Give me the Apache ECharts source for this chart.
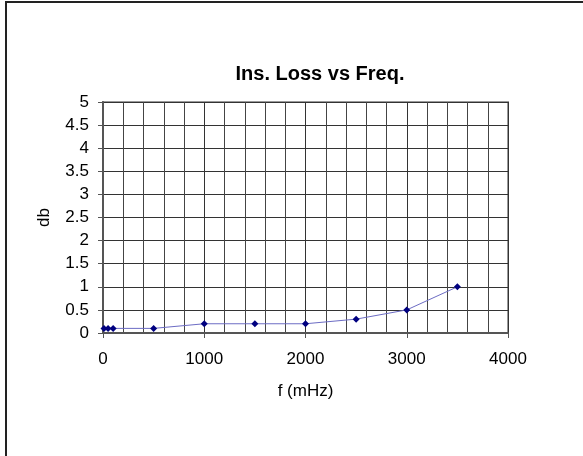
<!DOCTYPE html>
<html>
<head>
<meta charset="utf-8">
<script src="https://cdn.jsdelivr.net/npm/echarts@6/dist/echarts.min.js"></script>
<style>
html,body{margin:0;padding:0;background:#fff;}
#chart{width:583px;height:456px;}
</style>
</head>
<body>
<div id="chart"></div>
<script>
const freqs = [10, 50, 100, 500, 1000, 1500, 2000, 2500, 3000, 3500];
const lossDb = [0.1, 0.1, 0.1, 0.1, 0.2, 0.2, 0.2, 0.3, 0.5, 1.0];
const titleText = 'Ins. Loss vs Freq.';
const xName = 'f (mHz)';
const yName = 'db';

const chart = echarts.init(document.getElementById('chart'), null, {renderer: 'canvas'});
const font = 'Liberation Sans, Arial, sans-serif';
chart.setOption({
  animation: false,
  backgroundColor: '#fff',
  title: {
    text: titleText,
    left: 315,
    textAlign: 'center',
    top: 59,
    textStyle: {fontFamily: font, fontSize: 20, fontWeight: 'bold', color: '#000'}
  },
  graphic: [{
    type: 'rect',
    shape: {x: 6, y: 2, width: 700, height: 600},
    style: {fill: 'none', stroke: '#222', lineWidth: 2},
    silent: true
  }],
  grid: {left: 103, right: 75, top: 102, bottom: 123, show: true, borderColor: '#999', borderWidth: 2},
  xAxis: {
    type: 'value', min: 0, max: 4000, interval: 1000,
    name: xName, nameLocation: 'middle', nameGap: 50,
    nameTextStyle: {fontFamily: font, fontSize: 17, color: '#000'},
    axisLine: {onZero: false, lineStyle: {color: '#555', width: 2}},
    axisTick: {show: true, length: 5, lineStyle: {color: '#555'}},
    axisLabel: {fontFamily: font, fontSize: 17, color: '#000', margin: 18, formatter: v => String(v)},
    splitLine: {show: true, lineStyle: {color: '#333', width: 1}},
    minorTick: {show: false, splitNumber: 5},
    minorSplitLine: {show: true, lineStyle: {color: '#444', width: 1}}
  },
  yAxis: {
    type: 'value', min: 0, max: 5, interval: 0.5,
    name: yName, nameLocation: 'middle', nameGap: 50, nameRotate: 90,
    nameTextStyle: {fontFamily: font, fontSize: 17, color: '#000'},
    axisLine: {show: true, lineStyle: {color: '#555', width: 2}},
    axisTick: {show: true, length: 5, lineStyle: {color: '#555'}},
    axisLabel: {fontFamily: font, fontSize: 17, color: '#000', margin: 14},
    splitLine: {show: true, lineStyle: {color: '#333', width: 1}}
  },
  series: [{
    type: 'line',
    data: freqs.map((f, i) => [f, lossDb[i]]),
    symbol: 'diamond',
    symbolSize: 7,
    itemStyle: {color: '#000080'},
    lineStyle: {color: '#6c6cc4', width: 1}
  }]
});
</script>
</body>
</html>
